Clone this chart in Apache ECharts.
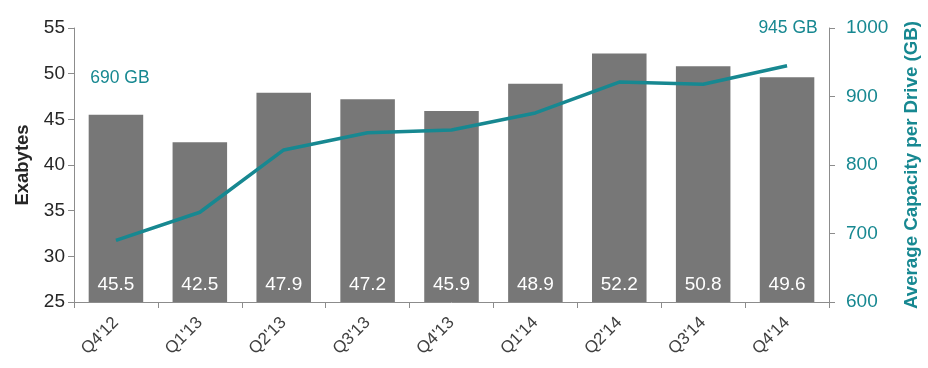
<!DOCTYPE html>
<html><head><meta charset="utf-8">
<script src="https://cdn.jsdelivr.net/npm/echarts@6/dist/echarts.min.js"></script>
<style>html,body{margin:0;padding:0;background:#fff}#c{width:928px;height:368px}</style>
</head><body><div id="c"></div>
<script>
const categories = ["Q4'12","Q1'13","Q2'13","Q3'13","Q4'13","Q1'14","Q2'14","Q3'14","Q4'14"];
const exabytes = [45.5,42.5,47.9,47.2,45.9,48.9,52.2,50.8,49.6];
const capacityGB = [690,731,822,847,851,876,921,918,945];
const leftTicks = {min:25,max:55,interval:5};
const rightTicks = {min:600,max:1000,interval:100};

const TEAL = '#178891';
const GRAY = '#777777';
const AX = '#8c8c8c';
const FONT = 'Liberation Sans, Arial, sans-serif';

const lineData = capacityGB.map((v,i)=>{
  if(i===0) return {value:v,label:{show:true,position:'top',distance:5,offset:[4,-148],formatter:'{c} GB',color:TEAL,fontSize:17.5,fontFamily:FONT}};
  if(i===capacityGB.length-1) return {value:v,label:{show:true,position:'top',distance:5,offset:[1,-23],formatter:'{c} GB',color:TEAL,fontSize:17.5,fontFamily:FONT}};
  return v;
});

const chart = echarts.init(document.getElementById('c'));
chart.setOption({
  animation:false,
  grid:{left:74,right:99,top:28,bottom:66,containLabel:false,outerBoundsMode:'none'},
  xAxis:{type:'category',data:categories,
    axisLine:{lineStyle:{color:AX,width:1}},
    axisTick:{show:true,length:6,lineStyle:{color:AX}},
    axisLabel:{rotate:45,color:'#404040',fontSize:17,fontFamily:FONT,margin:18}},
  yAxis:[
    {type:'value',min:leftTicks.min,max:leftTicks.max,interval:leftTicks.interval,
     name:'Exabytes',nameLocation:'middle',nameGap:42,nameRotate:90,
     nameTextStyle:{color:'#262626',fontSize:18.5,fontWeight:'bold',fontFamily:FONT},
     axisLine:{show:true,lineStyle:{color:AX}},
     axisTick:{show:true,length:6,lineStyle:{color:AX}},
     axisLabel:{color:'#262626',fontSize:19,fontFamily:FONT,margin:9},
     splitLine:{show:false}},
    {type:'value',min:rightTicks.min,max:rightTicks.max,interval:rightTicks.interval,
     name:'Average Capacity per Drive (GB)',nameLocation:'middle',nameGap:73,nameRotate:90,
     nameTextStyle:{color:TEAL,fontSize:18.7,fontWeight:'bold',fontFamily:FONT},
     axisLine:{show:true,lineStyle:{color:AX}},
     axisTick:{show:true,length:6,lineStyle:{color:AX}},
     axisLabel:{color:TEAL,fontSize:19,fontFamily:FONT,margin:17,formatter:v=>String(v)},
     splitLine:{show:false}}
  ],
  series:[
    {type:'bar',data:exabytes,yAxisIndex:0,barCategoryGap:'35%',
     itemStyle:{color:GRAY},
     label:{show:true,position:'insideBottom',distance:8,color:'#ffffff',fontSize:19,fontFamily:FONT}},
    {type:'line',data:lineData,yAxisIndex:1,symbol:'circle',symbolSize:0.1,showSymbol:true,smooth:false,
     lineStyle:{color:TEAL,width:3.5},itemStyle:{color:TEAL}}
  ]
});
</script></body></html>
